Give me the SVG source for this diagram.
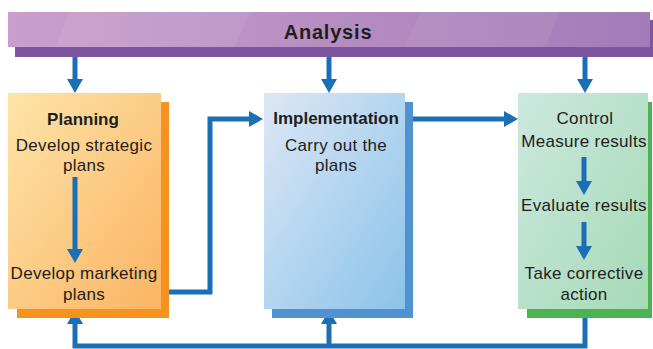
<svg xmlns="http://www.w3.org/2000/svg" width="653" height="349" viewBox="0 0 653 349">
<style>
text{font-family:"Liberation Sans",Arial,Helvetica,sans-serif;fill:#1e1e1e;text-anchor:middle}
.t{font-size:17px;letter-spacing:0.3px}
.b{font-size:17px;font-weight:bold}
.ln{fill:none;stroke:#1a6fb6;stroke-width:5}
</style>
<defs>
<marker id="ah" markerUnits="userSpaceOnUse" markerWidth="14" markerHeight="16" refX="8" refY="8" orient="auto">
<path d="M0,0 L14,8 L0,16 z" fill="#1a6fb6"/>
</marker>
<linearGradient id="gA" x1="0" y1="0" x2="1" y2="0">
<stop offset="0" stop-color="#c9a0cc"/><stop offset="1" stop-color="#a37bb8"/>
</linearGradient>
<linearGradient id="gP" x1="0" y1="0" x2="1" y2="1">
<stop offset="0" stop-color="#fee4a8"/><stop offset="1" stop-color="#fbb463"/>
</linearGradient>
<linearGradient id="gI" x1="0" y1="0" x2="1" y2="1">
<stop offset="0" stop-color="#dde7f5"/><stop offset="1" stop-color="#8bc3ea"/>
</linearGradient>
<linearGradient id="gC" x1="0" y1="0" x2="1" y2="1">
<stop offset="0" stop-color="#cce8df"/><stop offset="1" stop-color="#a6dab6"/>
</linearGradient>
</defs>

<g id="connectors">
<path class="ln" d="M75,47 V87" marker-end="url(#ah)"/>
<path class="ln" d="M329,47 V87" marker-end="url(#ah)"/>
<path class="ln" d="M585,47 V87" marker-end="url(#ah)"/>
<path class="ln" d="M161,292 H210 V119 H257" marker-end="url(#ah)"/>
<path class="ln" d="M405,119 H512" marker-end="url(#ah)"/>
<path class="ln" d="M585,309 V346 H75 V316" marker-end="url(#ah)"/>
<path class="ln" d="M329,346 V316" marker-end="url(#ah)"/>
</g>

<g id="analysis">
<rect x="15" y="20" width="638" height="37" fill="#7e56a0"/>
<rect x="8" y="12" width="642" height="35" fill="url(#gA)"/>
<polygon points="70,12 250,12 235,47 55,47" fill="#ffffff" opacity="0.07"/>
<polygon points="420,12 560,12 545,47 405,47" fill="#ffffff" opacity="0.06"/>
<text x="328" y="39" style="font-size:20px;font-weight:bold;letter-spacing:0.8px">Analysis</text>
</g>

<g id="planning">
<rect x="17" y="102" width="152" height="216" fill="#f6921e"/>
<rect x="8" y="93" width="153" height="216" fill="url(#gP)"/>
<text class="b" x="83" y="125">Planning</text>
<text class="t" x="84" y="151">Develop strategic</text>
<text class="t" x="84" y="171">plans</text>
<path class="ln" d="M75,177 V257" marker-end="url(#ah)"/>
<text class="t" x="84" y="279">Develop marketing</text>
<text class="t" x="84" y="300">plans</text>
</g>

<g id="implementation">
<rect x="272" y="102" width="141" height="216" fill="#4f92cf"/>
<rect x="264" y="93" width="141" height="216" fill="url(#gI)"/>
<text class="b" x="336" y="124">Implementation</text>
<text class="t" x="336" y="151">Carry out the</text>
<text class="t" x="336" y="171">plans</text>
</g>

<g id="control">
<rect x="527" y="102" width="125" height="216" fill="#4cb253"/>
<rect x="518" y="93" width="130" height="216" fill="url(#gC)"/>
<text class="t" x="585" y="124">Control</text>
<text class="t" x="584" y="147">Measure results</text>
<path class="ln" d="M584,157 V189" marker-end="url(#ah)"/>
<text class="t" x="584" y="211">Evaluate results</text>
<path class="ln" d="M584,222 V254" marker-end="url(#ah)"/>
<text class="t" x="584" y="279">Take corrective</text>
<text class="t" x="584" y="300">action</text>
</g>
</svg>
